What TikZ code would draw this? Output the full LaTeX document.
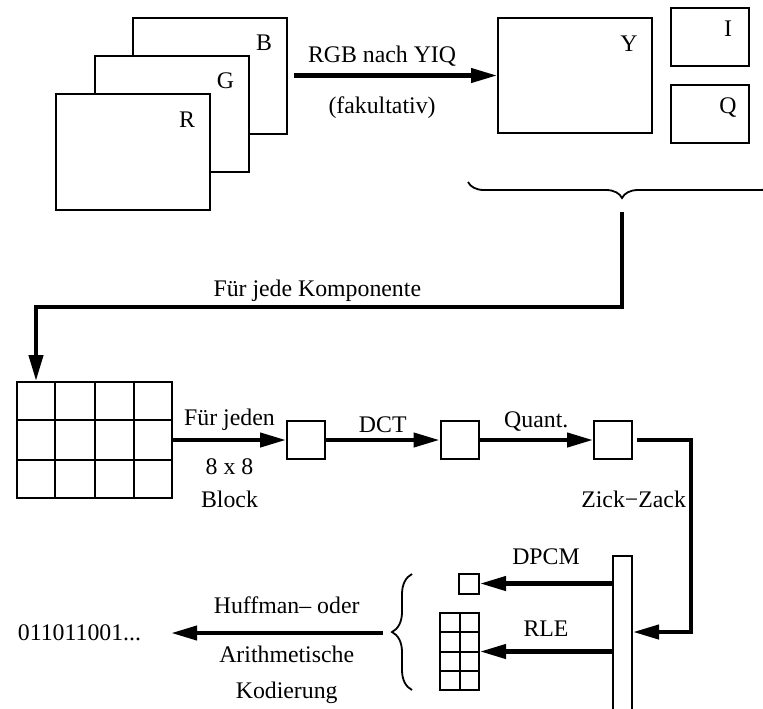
\documentclass[tikz,border=0pt]{standalone}
\usepackage{fontspec}
\setmainfont{Liberation Serif}
\usetikzlibrary{arrows.meta, calc, decorations.pathreplacing}

\begin{document}
\begin{tikzpicture}[
    x=0.5pt, y=-0.5pt,
    font=\fontsize{11.9}{14}\selectfont,
    plane/.style={
      draw,
      line width=1pt,
      fill=white,
      minimum width=77pt,
      minimum height=58pt,
      inner sep=0pt
    },
    chroma/.style={
      plane,
      minimum width=39pt,
      minimum height=29pt
    },
    block/.style={
      draw,
      line width=1pt,
      minimum size=19pt,
      inner sep=0pt
    },
    bar/.style={
      draw,
      line width=1pt,
      minimum width=9.5pt,
      minimum height=87pt,
      inner sep=0pt
    },
    cell/.style={line width=1pt},
    tag/.style={anchor=base, xshift=-12pt, yshift=-17pt},
    smalltag/.style={anchor=base, xshift=-11pt, yshift=-14.5pt},
    lab/.style={anchor=base},
    curly/.style={
      decorate,
      decoration={brace, amplitude=8pt},
      line width=0.9pt
    },
    arrow/.style={
      -{Triangle[length=13pt, width=7pt]},
      line width=2.1pt
    }
  ]

    \useasboundingbox (0,0) rectangle (763,708);

    % RGB colour planes
    \node[plane, label={[tag]north east:B}] (B) at (210,75.5) {};
    \node[plane, label={[tag]north east:G}] (G) at (171.5,113.5) {};
    \node[plane, label={[tag]north east:R}] (R) at (133,152) {};

    % YIQ planes
    \node[plane, minimum height=57.5pt, label={[tag]north east:Y}] (Y) at (575,75.5) {};
    \node[chroma, label={[smalltag]north east:I}] (I) at (710,37) {};
    \node[chroma, label={[smalltag]north east:Q}] (Q) at (710,114) {};

    \draw[arrow, shorten <=3pt] (B.east) --
      node[pos=0.45, lab, yshift=6.5pt] {RGB nach YIQ}
      node[pos=0.45, lab, yshift=-19pt] {(fakultativ)} (Y.west);

    % Brace below Y, I, Q
    \coordinate (braceL) at (468,182);
    \coordinate (braceR) at (776,182);
    \draw[curly, decoration={mirror}] (braceL) -- (braceR);

    % Component image split into blocks
    \node[plane, minimum width=77.5pt] (grid) at (94.5,440) {};
    \foreach \k in {1,2,3}
      \draw[cell] ($(grid.north west)!\k/4!(grid.north east)$) -- ($(grid.south west)!\k/4!(grid.south east)$);
    \foreach \k in {1,2}
      \draw[cell] ($(grid.north west)!\k/3!(grid.south west)$) -- ($(grid.north east)!\k/3!(grid.south east)$);

    \coordinate (tip) at (622,212);
    \coordinate (turn) at (622,307);
    \draw[arrow] (tip) -- (turn) -|
      node[pos=0.26, lab, yshift=5.5pt] {Für jede Komponente} ([xshift=10pt]grid.north west);

    % Block pipeline
    \node[block] (pre) at (306,440) {};
    \node[block] (dct) at (459.5,440) {};
    \node[block] (quant) at (613,440) {};

    \draw[arrow] (grid.east) --
      node[lab, yshift=7.5pt] {Für jeden}
      node[lab, yshift=-17pt] {8 x 8}
      node[lab, yshift=-33.5pt] {Block} (pre.west);
    \draw[arrow] (pre.east) -- node[lab, yshift=4pt] {DCT} (dct.west);
    \draw[arrow] (dct.east) -- node[lab, yshift=6.5pt] {Quant.} (quant.west);

    % Zig-zag scan into the coefficient vector
    \node[bar] (bar) at (622.5,643) {};
    \coordinate (zzTop) at (691,440);
    \coordinate (zzBot) at (691,632);
    \draw[arrow, shorten <=2pt] (quant.east) -- (zzTop) --
      node[pos=0.35, lab, anchor=base east, inner sep=0pt, xshift=-1.5pt] {Zick−Zack} (zzBot) -- (bar.east |- zzBot);

    % DC and AC coefficients
    \node[block, minimum size=10pt] (dc) at (469,583.5) {};
    \node[plane, minimum width=19.5pt, minimum height=38.5pt] (ac) at (459.5,651.5) {};
    \draw[cell] (ac.north) -- (ac.south);
    \foreach \k in {1,2,3}
      \draw[cell] ($(ac.north west)!\k/4!(ac.south west)$) -- ($(ac.north east)!\k/4!(ac.south east)$);

    \draw[arrow] (bar.west |- dc) -- node[lab, yshift=9.5pt] {DPCM} (dc.east);
    \draw[arrow] (bar.west |- ac) -- node[lab, yshift=7.5pt] {RLE} (ac.east);

    % Entropy coding
    \coordinate (braceB) at (412,690);
    \coordinate (braceT) at (412,574);
    \draw[curly, decoration={amplitude=10pt}] (braceB) -- (braceT);

    \node (bits) at (79.5,633) {011011001...};
    \coordinate (huff) at (383,633);
    \draw[arrow, shorten >=11.5pt] (huff) --
      node[pos=0.41, lab, yshift=10pt] {Huffman– oder}
      node[pos=0.41, lab, yshift=-14.5pt] {Arithmetische}
      node[pos=0.41, lab, yshift=-32.5pt] {Kodierung} (bits.east);

  \end{tikzpicture}
\end{document}
